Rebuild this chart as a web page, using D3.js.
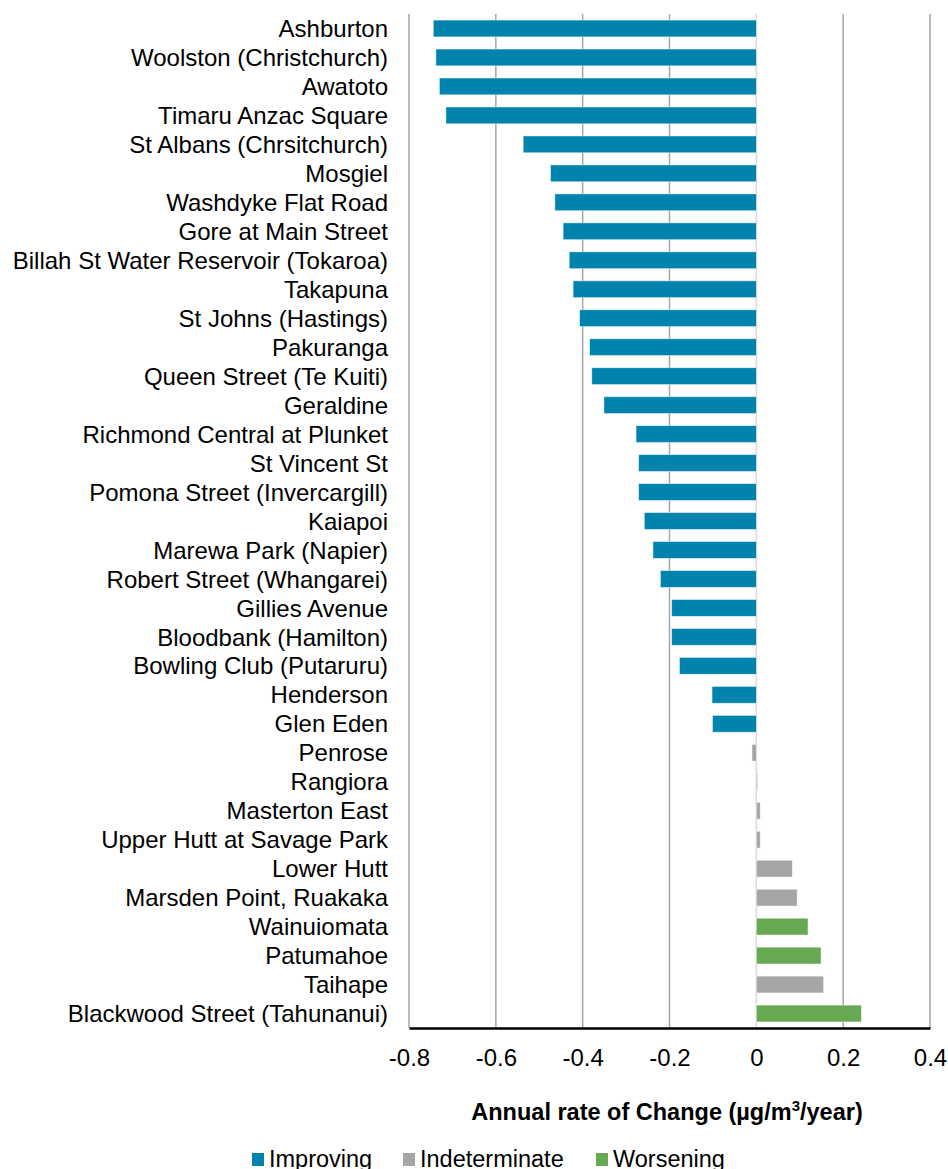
<!DOCTYPE html>
<html>
<head>
<meta charset="utf-8">
<script src="https://cdn.jsdelivr.net/npm/d3@7"></script>
<style>
  body { margin: 0; background: #fff; }
  svg text { font-family: "Liberation Sans", Arial, sans-serif; fill: #000; }
</style>
</head>
<body>
<svg></svg>
<script>
const sites = [
  "Ashburton", "Woolston (Christchurch)", "Awatoto", "Timaru Anzac Square",
  "St Albans (Chrsitchurch)", "Mosgiel", "Washdyke Flat Road", "Gore at Main Street",
  "Billah St Water Reservoir (Tokaroa)", "Takapuna", "St Johns (Hastings)", "Pakuranga",
  "Queen Street (Te Kuiti)", "Geraldine", "Richmond Central at Plunket", "St Vincent St",
  "Pomona Street (Invercargill)", "Kaiapoi", "Marewa Park (Napier)", "Robert Street (Whangarei)",
  "Gillies Avenue", "Bloodbank (Hamilton)", "Bowling Club (Putaruru)", "Henderson",
  "Glen Eden", "Penrose", "Rangiora", "Masterton East",
  "Upper Hutt at Savage Park", "Lower Hutt", "Marsden Point, Ruakaka", "Wainuiomata",
  "Patumahoe", "Taihape", "Blackwood Street (Tahunanui)"
];
const rates = [
  -0.744, -0.738, -0.730, -0.715,
  -0.537, -0.474, -0.464, -0.445,
  -0.431, -0.422, -0.407, -0.384,
  -0.379, -0.351, -0.277, -0.271,
  -0.271, -0.258, -0.238, -0.221,
  -0.195, -0.195, -0.177, -0.102,
  -0.101, -0.010, 0.003, 0.009,
  0.009, 0.083, 0.094, 0.119,
  0.149, 0.155, 0.242
];
const trends = [
  "Improving", "Improving", "Improving", "Improving",
  "Improving", "Improving", "Improving", "Improving",
  "Improving", "Improving", "Improving", "Improving",
  "Improving", "Improving", "Improving", "Improving",
  "Improving", "Improving", "Improving", "Improving",
  "Improving", "Improving", "Improving", "Improving",
  "Improving", "Indeterminate", "Indeterminate", "Indeterminate",
  "Indeterminate", "Indeterminate", "Indeterminate", "Worsening",
  "Worsening", "Indeterminate", "Worsening"
];
const categories = ["Improving", "Indeterminate", "Worsening"];
const colours = ["#0083ac", "#a6a6a6", "#67a852"];
const xTicks = [-0.8, -0.6, -0.4, -0.2, 0, 0.2, 0.4];

let width = 948;
let height = 1169;
let margin = {top: 14, right: 18, bottom: 141, left: 409};

let svg = d3.select("svg")
            .attr("width", width)
            .attr("height", height);

let x = d3.scaleLinear()
          .domain([-0.8, 0.4])
          .range([margin.left, width - margin.right]);

let y = d3.scaleBand()
          .domain(sites)
          .range([margin.top, height - margin.bottom])
          .paddingInner(0.42)
          .paddingOuter(0.21);

let colour = d3.scaleOrdinal()
               .domain(categories)
               .range(colours);

let rows = sites.map((s, i) => ({site: s, rate: rates[i], trend: trends[i]}));

// gridlines
svg.append("g")
   .selectAll("line")
   .data(xTicks)
   .enter()
   .append("line")
   .attr("x1", d => x(d))
   .attr("x2", d => x(d))
   .attr("y1", margin.top)
   .attr("y2", height - margin.bottom)
   .attr("stroke", d => d === 0 ? "#d9d9d9" : "#a6a6a6")
   .attr("stroke-width", 1.5);

// bars
svg.append("g")
   .selectAll("rect")
   .data(rows)
   .enter()
   .append("rect")
   .attr("x", d => x(Math.min(0, d.rate)))
   .attr("y", d => y(d.site))
   .attr("width", d => Math.abs(x(d.rate) - x(0)))
   .attr("height", y.bandwidth())
   .attr("fill", d => colour(d.trend))
   .attr("stroke", "#fff")
   .attr("stroke-opacity", 0.6)
   .attr("stroke-width", 0.75);

// category labels
svg.append("g")
   .selectAll("text")
   .data(sites)
   .enter()
   .append("text")
   .attr("x", margin.left - 21)
   .attr("y", d => y(d) + y.bandwidth() / 2)
   .attr("dy", "0.36em")
   .attr("text-anchor", "end")
   .style("font-size", "24px")
   .text(d => d);

// x axis
let xAxis = svg.append("g")
   .attr("transform", `translate(0, ${height - margin.bottom})`)
   .call(d3.axisBottom(x)
           .tickValues(xTicks)
           .tickSize(0)
           .tickPadding(21)
           .tickFormat(d => (+d.toFixed(1)).toString()));

xAxis.select(".domain")
     .attr("stroke", "#000")
     .attr("stroke-width", 2.5);

xAxis.selectAll("text")
     .style("font-size", "24px")
     .style("font-family", "'Liberation Sans', Arial, sans-serif");

// axis title
let title = svg.append("text")
   .attr("x", 667)
   .attr("y", 1120)
   .attr("text-anchor", "middle")
   .style("font-size", "23.5px")
   .style("font-weight", "bold");
title.append("tspan").text("Annual rate of Change (µg/m");
title.append("tspan").attr("dy", -9).style("font-size", "15px").text("3");
title.append("tspan").attr("dy", 9).text("/year)");

// legend
let legendX = [252, 403, 596];
let legend = svg.append("g")
   .selectAll("g")
   .data(categories)
   .enter()
   .append("g")
   .attr("transform", (d, i) => `translate(${legendX[i]}, 1153)`);

legend.append("rect")
      .attr("width", 12)
      .attr("height", 13)
      .attr("fill", (d, i) => colours[i]);

legend.append("text")
      .attr("x", 17)
      .attr("y", 13.5)
      .style("font-size", "23.5px")
      .text(d => d);
</script>
</body>
</html>
